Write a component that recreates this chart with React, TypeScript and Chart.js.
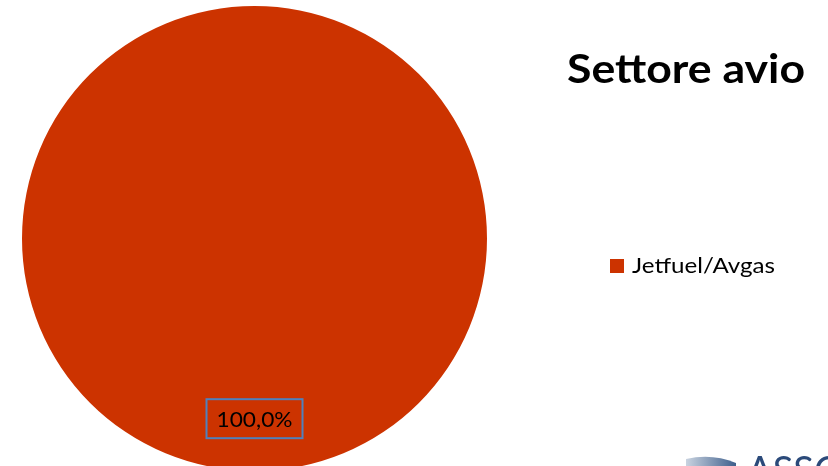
import React, { useEffect, useRef } from "react";
import { Chart, registerables } from "chart.js";

Chart.register(...registerables);

const categories = ["Jetfuel/Avgas"];
const values = [100];
const sliceColors = ["#CC3300"];
const chartTitle = "Settore avio";
const valueLabels = ["100,0%"];
const logoText = "ASSO";

const FONT = "Lato, 'Open Sans', 'DejaVu Sans', sans-serif";

function drawFitted(
  ctx: CanvasRenderingContext2D,
  text: string,
  weight: string,
  x: number,
  baseline: number,
  targetWidth: number,
  capHeight: number
) {
  // Lato cap height is about 0.72 em
  const size = capHeight / 0.72;
  ctx.font = `${weight} ${size}px ${FONT}`;
  const w = ctx.measureText(text).width;
  const sx = targetWidth / w;
  ctx.save();
  ctx.translate(x, baseline);
  ctx.scale(sx, 1);
  ctx.textAlign = "left";
  ctx.textBaseline = "alphabetic";
  ctx.fillText(text, 0, 0);
  ctx.restore();
}

const overlayPlugin = {
  id: "overlay",
  afterDraw(chart: any) {
    const ctx: CanvasRenderingContext2D = chart.ctx;
    ctx.save();

    // Title
    ctx.fillStyle = "#000000";
    drawFitted(ctx, chartTitle, "bold", 567, 83, 238, 29);

    // Legend
    categories.forEach((cat, i) => {
      const y = 259 + i * 26;
      ctx.fillStyle = sliceColors[i];
      ctx.fillRect(610, y, 14, 14);
      ctx.fillStyle = "#000000";
      drawFitted(ctx, cat, "normal", 632, y + 14, 143, 15.5);
    });

    // Data labels
    const meta = chart.getDatasetMeta(0);
    meta.data.forEach((arc: any, i: number) => {
      const p = arc.getProps(["x", "y", "startAngle", "endAngle", "outerRadius"], true);
      const mid = (p.startAngle + p.endAngle) / 2;
      const r = p.outerRadius * 0.775;
      const cx = p.x + Math.cos(mid) * r;
      const cy = p.y + Math.sin(mid) * r;
      const bw = 96;
      const bh = 39;
      ctx.strokeStyle = "#4F81BD";
      ctx.lineWidth = 2;
      ctx.strokeRect(cx - bw / 2, cy - bh / 2, bw, bh);
      ctx.fillStyle = "#000000";
      drawFitted(ctx, valueLabels[i], "normal", cx - 38, cy + 8, 76, 15);
    });

    // Partial logo at bottom right
    const grad = ctx.createLinearGradient(686, 0, 736, 0);
    grad.addColorStop(0, "#C9D3E0");
    grad.addColorStop(1, "#3E5F8C");
    ctx.fillStyle = grad;
    ctx.beginPath();
    ctx.moveTo(686, 459);
    ctx.quadraticCurveTo(712, 453, 736, 463);
    ctx.lineTo(736, 470);
    ctx.lineTo(686, 470);
    ctx.closePath();
    ctx.fill();
    ctx.fillStyle = "#2B4A7A";
    ctx.font = `normal 38px ${FONT}`;
    ctx.textAlign = "left";
    ctx.textBaseline = "alphabetic";
    ctx.fillText(logoText, 747, 457 + 27);

    ctx.restore();
  },
};

export default function App() {
  const ref = useRef<HTMLCanvasElement | null>(null);

  useEffect(() => {
    document.body.style.margin = "0";
    if (!ref.current) return;
    const chart = new Chart(ref.current, {
      type: "pie",
      data: {
        labels: categories,
        datasets: [
          {
            data: values,
            backgroundColor: sliceColors,
            borderWidth: 0,
          },
        ],
      },
      options: {
        responsive: false,
        animation: false,
        layout: { padding: { left: 22, top: 6, right: 341, bottom: 9 } },
        plugins: {
          legend: { display: false },
          title: { display: false },
          tooltip: { enabled: false },
        },
      },
      plugins: [overlayPlugin],
    });
    return () => chart.destroy();
  }, []);

  return (
    <div style={{ position: "fixed", left: 0, top: 0, width: 828, height: 466, overflow: "hidden", background: "#fff" }}>
      <canvas ref={ref} width={828} height={480} style={{ width: 828, height: 480, display: "block" }} />
    </div>
  );
}
